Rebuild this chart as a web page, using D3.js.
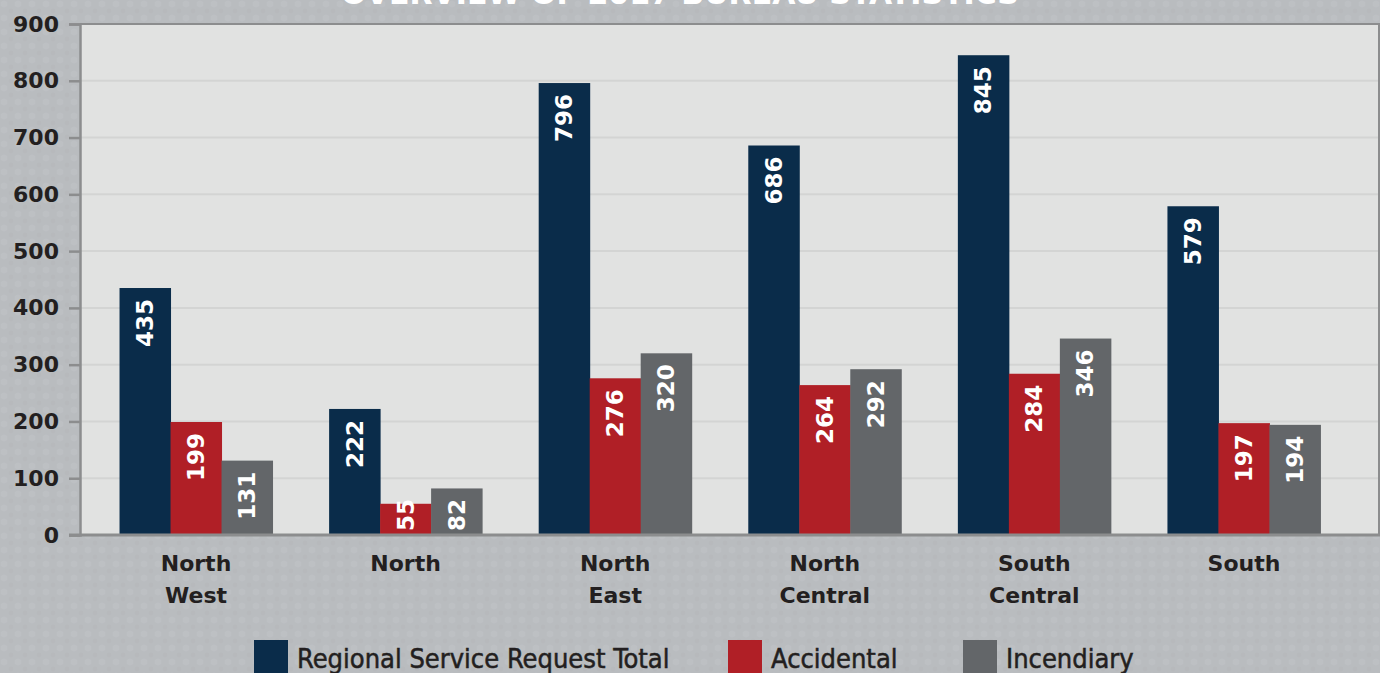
<!DOCTYPE html>
<html>
<head>
<meta charset="utf-8">
<script src="https://cdn.jsdelivr.net/npm/d3@7/dist/d3.min.js"></script>
<style>
  html, body { margin: 0; padding: 0; background: #b9bcbf; overflow: hidden; }
  svg { display: block; }
</style>
</head>
<body>
<svg id="chart" width="1380" height="673"></svg>
<script>
const title = "OVERVIEW OF 2017 BUREAU STATISTICS";
const categories = [["North", "West"], ["North"], ["North", "East"], ["North", "Central"], ["South", "Central"], ["South"]];
const seriesNames = ["Regional Service Request Total", "Accidental", "Incendiary"];
const totalValues = [435, 222, 796, 686, 845, 579];
const accidentalValues = [199, 55, 276, 264, 284, 197];
const incendiaryValues = [131, 82, 320, 292, 346, 194];
const yTicks = [0, 100, 200, 300, 400, 500, 600, 700, 800, 900];
const colors = ["#0a2c4a", "#b01f26", "#636669"];

const series = [totalValues, accidentalValues, incendiaryValues];
const svg = d3.select("#chart");
const W = 1380, H = 673;
const pLeft = 80, pRight = 1379, pTop = 24, pBottom = 535;

// textured background dots
const defs = svg.append("defs");
const pat = defs.append("pattern").attr("id", "dots").attr("width", 14).attr("height", 14).attr("patternUnits", "userSpaceOnUse");
pat.append("circle").attr("cx", 4).attr("cy", 4).attr("r", 3.2).attr("fill", "#c1c4c7").attr("opacity", 0.5);
pat.append("circle").attr("cx", 11).attr("cy", 11).attr("r", 2.4).attr("fill", "#b3b6b9").attr("opacity", 0.45);
svg.append("rect").attr("width", W).attr("height", H).attr("fill", "#b9bcbf");
svg.append("rect").attr("width", W).attr("height", H).attr("fill", "url(#dots)");

// title (cut at top, as in the reference)
svg.append("text").attr("x", 680).attr("y", 4).attr("text-anchor", "middle")
  .attr("font-family", "DejaVu Sans").attr("font-weight", "bold").attr("font-size", 30)
  .attr("fill", "#ffffff").text(title);

const x = d3.scaleBand().domain(d3.range(categories.length)).range([pLeft, pRight])
  .paddingInner(0.27).paddingOuter(0.234).align(0.403);
const xs = d3.scaleBand().domain(d3.range(series.length)).range([0, x.bandwidth()]);
const y = d3.scaleLinear().domain([0, 900]).range([pBottom, pTop]);

// plot background
svg.append("rect").attr("x", pLeft).attr("y", pTop).attr("width", pRight - pLeft).attr("height", pBottom - pTop).attr("fill", "#e1e2e1");

// gridlines
svg.append("g").selectAll("line").data(yTicks.filter(d => d > 0 && d < 900)).join("line")
  .attr("x1", pLeft).attr("x2", pRight).attr("y1", d => y(d)).attr("y2", d => y(d))
  .attr("stroke", "#d3d4d3").attr("stroke-width", 2);

// borders
svg.append("line").attr("x1", pLeft).attr("x2", pRight + 1).attr("y1", pTop).attr("y2", pTop).attr("stroke", "#8c8d8e").attr("stroke-width", 2);
svg.append("line").attr("x1", pRight).attr("x2", pRight).attr("y1", pTop).attr("y2", pBottom).attr("stroke", "#8c8d8e").attr("stroke-width", 2);

// y axis
const yAxis = d3.axisLeft(y).tickValues(yTicks).tickSize(11).tickPadding(10).tickFormat(d3.format("d"));
const gy = svg.append("g").attr("transform", `translate(${pLeft},0)`).call(yAxis);
gy.select(".domain").attr("stroke", "#8c8d8e").attr("stroke-width", 2.5);
gy.selectAll(".tick line").attr("stroke", "#8c8d8e").attr("stroke-width", 2.5);
gy.selectAll(".tick text").attr("font-family", "DejaVu Sans").attr("font-weight", "bold").attr("font-size", 22).attr("fill", "#231f20");

// bars
const groups = svg.append("g").selectAll("g").data(categories).join("g")
  .attr("transform", (d, i) => `translate(${x(i)},0)`);
groups.each(function (cat, i) {
  const g = d3.select(this);
  series.forEach((vals, s) => {
    const v = vals[i];
    g.append("rect").attr("x", xs(s)).attr("y", y(v)).attr("width", xs.bandwidth() + 0.5)
      .attr("height", y(0) - y(v)).attr("fill", colors[s]);
  });
});

// bottom axis line
svg.append("line").attr("x1", pLeft - 11).attr("x2", pRight + 1).attr("y1", pBottom).attr("y2", pBottom).attr("stroke", "#8c8d8e").attr("stroke-width", 3);

// value labels rotated (reading bottom to top)
groups.each(function (cat, i) {
  const g = d3.select(this);
  series.forEach((vals, s) => {
    const v = vals[i];
    const cx = xs(s) + xs.bandwidth() / 2;
    const t = g.append("text").attr("font-family", "DejaVu Sans").attr("font-weight", "bold")
      .attr("font-size", 23).attr("fill", "#ffffff").attr("dominant-baseline", "central")
      .attr("text-anchor", "end").text(v);
    const len = t.node().getComputedTextLength();
    let ty = y(v) + 11;
    if (ty + len > pBottom - 4) ty = pBottom - 4 - len;
    t.attr("transform", `translate(${cx},${ty}) rotate(-90)`);
  });
});

// category labels
svg.append("g").selectAll("text").data(categories).join("text")
  .attr("x", (d, i) => x(i) + x.bandwidth() / 2).attr("y", 571)
  .attr("text-anchor", "middle").attr("font-family", "DejaVu Sans").attr("font-weight", "bold")
  .attr("font-size", 22).attr("fill", "#231f20")
  .each(function (d) {
    const el = d3.select(this);
    el.selectAll("tspan").data(d).join("tspan")
      .attr("x", el.attr("x")).attr("dy", (t, k) => k === 0 ? 0 : 32).text(t => t);
  });

// legend
const legendX = [254, 728, 963];
const lg = svg.append("g").selectAll("g").data(seriesNames).join("g")
  .attr("transform", (d, i) => `translate(${legendX[i]},640)`);
lg.append("rect").attr("width", 34).attr("height", 40).attr("fill", (d, i) => colors[i]);
lg.append("text").attr("x", 43).attr("y", 28).attr("font-family", "DejaVu Sans Condensed, DejaVu Sans")
  .attr("font-weight", "500").attr("font-size", 27).attr("fill", "#231f20")
  .attr("stroke", "#231f20").attr("stroke-width", 0.5).text(d => d);
</script>
</body>
</html>
